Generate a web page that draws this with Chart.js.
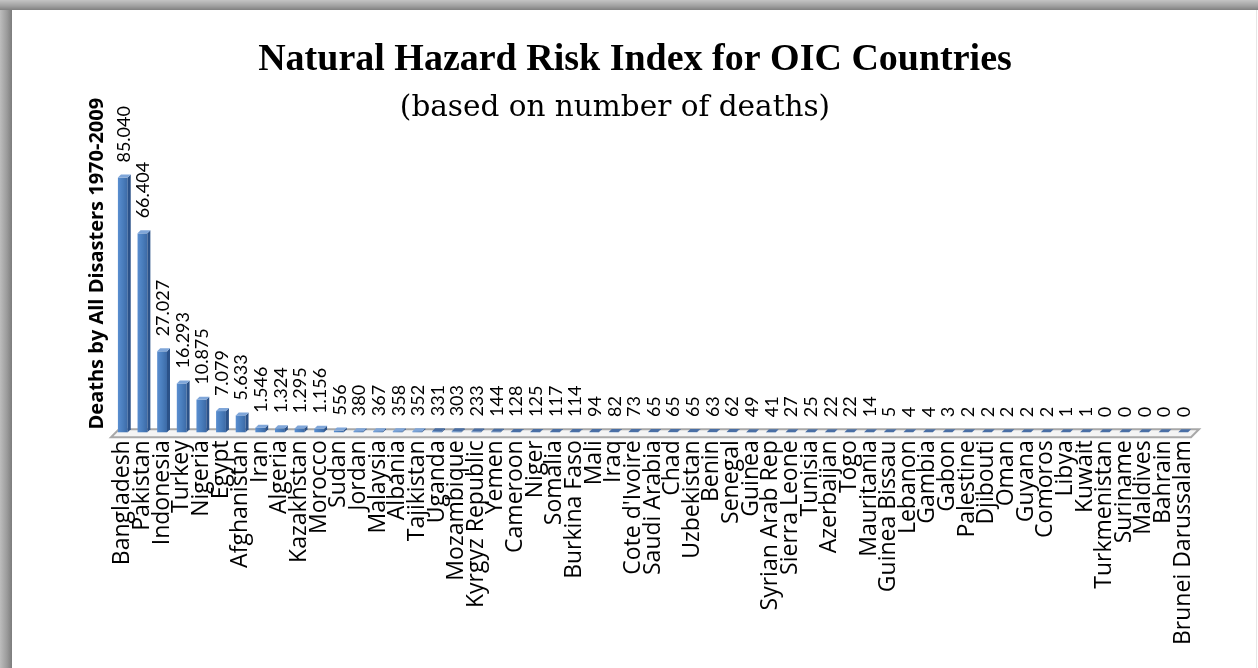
<!DOCTYPE html>
<html>
<head>
<meta charset="utf-8">
<script src="https://cdn.jsdelivr.net/npm/chart.js@4/dist/chart.umd.min.js"></script>
<style>
html,body{margin:0;padding:0;background:#fff;width:1258px;height:668px;overflow:hidden;}
#wrap{position:absolute;left:0;top:0;width:1258px;height:668px;}
canvas{position:absolute;left:0;top:0;}
.bl{position:absolute;left:0;top:0;width:12px;height:668px;background:linear-gradient(to right,#bdbdbd,#9a9a9a 60%,#7c7c7c);}
.bt{position:absolute;left:0;top:0;width:1258px;height:10px;background:linear-gradient(to bottom,#c4c4c4,#a0a0a0 60%,#808080);}
.br{position:absolute;left:1256px;top:10px;width:1px;height:658px;background:#e6e6e6;}
</style>
</head>
<body>
<div id="wrap">
<canvas id="c" width="1258" height="668"></canvas>
<div class="bl"></div><div class="bt"></div><div class="br"></div>
</div>
<script>
const categories = ["Bangladesh","Pakistan","Indonesia","Turkey","Nigeria","Egypt","Afghanistan","Iran","Algeria","Kazakhstan","Morocco","Sudan","Jordan","Malaysia","Albania","Tajikistan","Uganda","Mozambique","Kyrgyz Republic","Yemen","Cameroon","Niger","Somalia","Burkina Faso","Mali","Iraq","Cote d'Ivoire","Saudi Arabia","Chad","Uzbekistan","Benin","Senegal","Guinea","Syrian Arab Rep","Sierra Leone","Tunisia","Azerbaijan","Togo","Mauritania","Guinea Bissau","Lebanon","Gambia","Gabon","Palestine","Djibouti","Oman","Guyana","Comoros","Libya","Kuwait","Turkmenistan","Suriname","Maldives","Bahrain","Brunei Darussalam"];
const deaths = [85040,66404,27027,16293,10875,7079,5633,1546,1324,1295,1156,556,380,367,358,352,331,303,233,144,128,125,117,114,94,82,73,65,65,65,63,62,49,41,27,25,22,22,14,5,4,4,3,2,2,2,2,2,1,1,0,0,0,0,0];
const chartTitle = "Natural Hazard Risk Index for OIC Countries";
const chartSubtitle = "(based on number of deaths)";
const yAxisTitle = "Deaths by All Disasters 1970-2009";

function fmt(v){ return String(v).replace(/\B(?=(\d{3})+(?!\d))/g,'.'); }

const floorPlugin = {
  id:'floor',
  beforeDatasetsDraw(chart){
    const {ctx, chartArea:a} = chart;
    const base = chart.scales.y.getPixelForValue(0);
    ctx.save();
    ctx.beginPath();
    ctx.moveTo(a.left-2, base+5);
    ctx.lineTo(a.right-2, base+5);
    ctx.lineTo(a.right+6, base-3);
    ctx.lineTo(a.left+6, base-3);
    ctx.closePath();
    ctx.fillStyle='#f4f4f4';
    ctx.fill();
    ctx.lineWidth=2;
    ctx.strokeStyle='#a8a8a8';
    ctx.stroke();
    ctx.restore();
  }
};

const bar3dPlugin = {
  id:'bar3d',
  afterDatasetsDraw(chart){
    const {ctx} = chart;
    const meta = chart.getDatasetMeta(0);
    ctx.save();
    const d = 3;
    meta.data.forEach((el)=>{
      const w = el.width, x = el.x, top = el.y, base = el.base;
      const l = x - w/2, r = x + w/2;
      const g = ctx.createLinearGradient(l, 0, r, 0);
      g.addColorStop(0,'#5a8ed0');
      g.addColorStop(0.5,'#4a7ebd');
      g.addColorStop(1,'#3c6aa6');
      ctx.fillStyle = g;
      ctx.fillRect(l, top, w, base-top);
      ctx.beginPath();
      ctx.moveTo(r, top); ctx.lineTo(r+d, top-d); ctx.lineTo(r+d, base-d); ctx.lineTo(r, base);
      ctx.closePath();
      ctx.fillStyle='#2b5289'; ctx.fill();
      ctx.beginPath();
      ctx.moveTo(l, top); ctx.lineTo(l+d, top-d); ctx.lineTo(r+d, top-d); ctx.lineTo(r, top);
      ctx.closePath();
      ctx.fillStyle = (base-top) < 1 ? '#4a6fa5' : '#7fa6d9'; ctx.fill();
    });
    ctx.restore();
  }
};

const labelPlugin = {
  id:'vlabels',
  afterDatasetsDraw(chart){
    const {ctx} = chart;
    const meta = chart.getDatasetMeta(0);
    const vals = chart.data.datasets[0].data;
    ctx.save();
    ctx.font = '18px Lato';
    ctx.fillStyle = '#000';
    ctx.textAlign = 'left';
    ctx.textBaseline = 'middle';
    meta.data.forEach((el,i)=>{
      ctx.save();
      ctx.translate(el.x+1, el.y - 15);
      ctx.rotate(-Math.PI/2);
      ctx.fillText(fmt(vals[i]), 0, 0);
      ctx.restore();
    });
    ctx.restore();
  }
};

const subtitlePlugin = {
  id:'sub',
  afterDraw(chart){
    const {ctx} = chart;
    ctx.save();
    ctx.font = '29.5px "DejaVu Serif"';
    ctx.fillStyle = '#000';
    ctx.textAlign = 'center';
    ctx.textBaseline = 'middle';
    ctx.fillText(chartSubtitle, 615, 108);
    ctx.restore();
  }
};

new Chart(document.getElementById('c'), {
  type:'bar',
  data:{
    labels: categories,
    datasets:[{
      data: deaths,
      backgroundColor: 'rgba(0,0,0,0)',
      borderWidth: 0,
      categoryPercentage: 0.5,
      barPercentage: 1
    }]
  },
  options:{
    responsive:false,
    animation:false,
    devicePixelRatio:1,
    layout:{padding:{left:77, right:65, top:0, bottom:15}},
    plugins:{
      legend:{display:false},
      tooltip:{enabled:false},
      title:{display:true, text:chartTitle, color:'#000',
        font:{family:'Liberation Serif', size:38, weight:'bold'},
        padding:{top:37, bottom:12.4}}
    },
    scales:{
      x:{
        grid:{display:false, drawTicks:false},
        border:{display:false},
        ticks:{autoSkip:false, maxRotation:90, minRotation:90, padding:8, color:'#000',
          font:{family:'Open Sans', size:23}}
      },
      y:{
        min:0, max:112600,
        grid:{display:false, drawTicks:false},
        border:{display:false},
        ticks:{display:false},
        title:{display:true, text:yAxisTitle, color:'#000',
          font:{family:'Open Sans', size:20, weight:'bold'},
          padding:{top:8, bottom:4}}
      }
    }
  },
  plugins:[floorPlugin, bar3dPlugin, labelPlugin, subtitlePlugin]
});
</script>
</body>
</html>
